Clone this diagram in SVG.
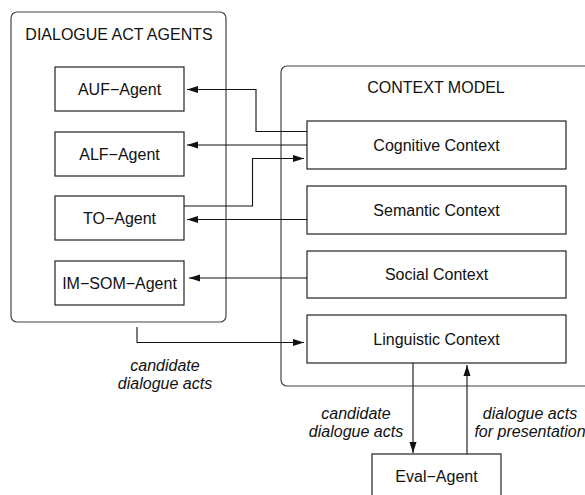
<svg xmlns="http://www.w3.org/2000/svg" width="585" height="495" viewBox="0 0 585 495">
<style>
.box{fill:#fff;stroke:#222;stroke-width:1.2}
.cont{fill:none;stroke:#444;stroke-width:1.2}
.t{font-family:"Liberation Sans",Arial,sans-serif;font-size:16px;fill:#111;text-anchor:middle}
.i{font-style:italic}
.c{fill:none;stroke:#111;stroke-width:1.1}
</style>
<defs>
<marker id="ah" markerWidth="12" markerHeight="8" refX="11" refY="4" orient="auto" markerUnits="userSpaceOnUse">
<path d="M0,0.5 L11,4 L0,7.5 Z" fill="#111"/>
</marker>
</defs>
<g id="dialogue-act-agents">
<rect class="cont" x="11" y="12" width="215" height="310" rx="6"/>
<text class="t" x="119" y="40">DIALOGUE ACT AGENTS</text>
</g>
<g id="context-model">
<rect class="cont" x="281" y="66" width="320" height="320" rx="6"/>
<text class="t" x="436" y="93">CONTEXT MODEL</text>
</g>
<g id="auf-agent"><rect class="box" x="55" y="67" width="129" height="44"/><text class="t" x="119.5" y="94.5">AUF−Agent</text></g>
<g id="alf-agent"><rect class="box" x="55" y="132" width="129" height="44"/><text class="t" x="119.5" y="159.5">ALF−Agent</text></g>
<g id="to-agent"><rect class="box" x="55" y="196" width="129" height="44"/><text class="t" x="119.5" y="223.5">TO−Agent</text></g>
<g id="im-som-agent"><rect class="box" x="55" y="261" width="129" height="44"/><text class="t" x="119.5" y="288.5">IM−SOM−Agent</text></g>
<g id="cognitive-context"><rect class="box" x="307" y="121" width="259" height="48"/><text class="t" x="436.5" y="150.5">Cognitive Context</text></g>
<g id="semantic-context"><rect class="box" x="307" y="186" width="259" height="48"/><text class="t" x="436.5" y="215.5">Semantic Context</text></g>
<g id="social-context"><rect class="box" x="307" y="251" width="259" height="47"/><text class="t" x="436.5" y="280">Social Context</text></g>
<g id="linguistic-context"><rect class="box" x="307" y="315" width="259" height="48"/><text class="t" x="436.5" y="344.5">Linguistic Context</text></g>
<g id="eval-agent"><rect class="box" x="372" y="454" width="129" height="50"/><text class="t" x="436.5" y="481.5">Eval−Agent</text></g>
<g id="connectors">
<path class="c" d="M307,131.5 H256 V89.5 H187" marker-end="url(#ah)"/>
<path class="c" d="M307,145 H187" marker-end="url(#ah)"/>
<path class="c" d="M184,206 H252.5 V158.5 H304" marker-end="url(#ah)"/>
<path class="c" d="M307,219.5 H187" marker-end="url(#ah)"/>
<path class="c" d="M307,278 H189" marker-end="url(#ah)"/>
<path class="c" d="M137,327 V342.5 H304" marker-end="url(#ah)"/>
<path class="c" d="M413,363 V453" marker-end="url(#ah)"/>
<path class="c" d="M467,454 V365" marker-end="url(#ah)"/>
</g>
<g id="labels">
<text class="t i" x="165" y="371">candidate</text>
<text class="t i" x="165" y="389">dialogue acts</text>
<text class="t i" x="356" y="419">candidate</text>
<text class="t i" x="356" y="437">dialogue acts</text>
<text class="t i" x="530" y="419">dialogue acts</text>
<text class="t i" x="530" y="437">for presentation</text>
</g>
</svg>
